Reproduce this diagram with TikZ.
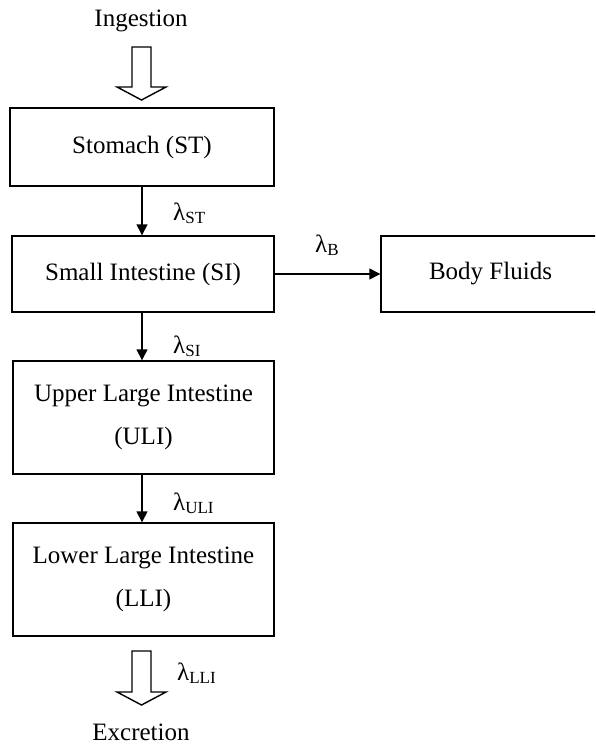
\documentclass[tikz,border=0pt]{standalone}
\usepackage{fontspec}
\setmainfont{Liberation Serif}
\usetikzlibrary{arrows.meta}
\newcommand{\lam}[1]{λ\raisebox{-0.3ex}{\fontsize{17}{17}\selectfont #1}}
\begin{document}
\begin{tikzpicture}[x=1pt,y=-1pt,
  box/.style={draw,line width=1.4pt,rectangle,inner sep=0pt,align=center,
    font=\fontsize{25}{43}\selectfont},
  lbl/.style={anchor=base west,inner sep=0pt,font=\fontsize{25}{30}\selectfont},
  txt/.style={anchor=base,inner sep=0pt,font=\fontsize{25}{30}\selectfont},
  flow/.style={line width=1.4pt,-{Triangle[length=11pt,width=11pt]}},
  fat/.style={draw,line width=1.4pt,fill=white,line join=miter}]
\clip (0,0) rectangle (595,744);
\fill[white] (0,0) rectangle (595,744);
\node[box,minimum width=264pt,minimum height=78pt] (st) at (142,147) {Stomach (ST)};
\node[box,minimum width=262pt,minimum height=76pt] (si) at (143,274) {Small Intestine (SI)};
\node[box,minimum width=219pt,minimum height=76pt] (bf) at (490.5,274) {Body Fluids};
\node[box,minimum width=261pt,minimum height=113pt] (uli) at (143.5,417.5) {Upper Large Intestine\\(ULI)};
\node[box,minimum width=261pt,minimum height=113pt] (lli) at (143.5,579.5) {Lower Large Intestine\\(LLI)};
\node[txt] (ing) at (141,27) {Ingestion};
\node[txt] (exc) at (141,740) {Excretion};
\draw[flow] (st.south -| 142,0) -- (si.north -| 142,0);
\draw[flow] (si.south -| 142,0) -- (uli.north -| 142,0);
\draw[flow] (uli.south -| 142,0) -- (lli.north -| 142,0);
\draw[flow] (si.east) -- (bf.west);
\node[lbl] (lst) at (173,220) {\lam{ST}};
\node[lbl] (lsi) at (173,353) {\lam{SI}};
\node[lbl] (luli) at (173,510) {\lam{ULI}};
\node[lbl] (lb) at (315,252) {\lam{B}};
\node[lbl] (llli) at (177,680) {\lam{LLI}};
% block arrows
\draw[fat] (132,47) -- (151,47) -- (151,87) -- (166,87) -- (141.5,100) -- (117,87) -- (132,87) -- cycle;
\draw[fat] (132,651) -- (151,651) -- (151,692) -- (166,692) -- (141.5,705) -- (117,692) -- (132,692) -- cycle;
\end{tikzpicture}
\end{document}
